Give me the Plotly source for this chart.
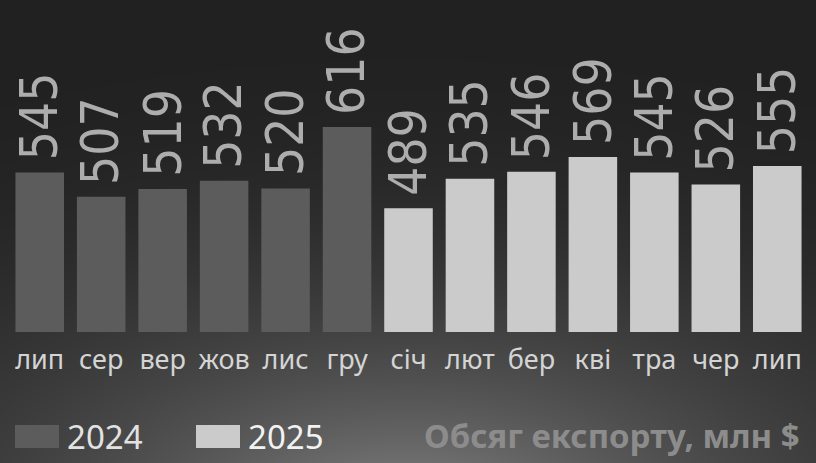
import base64
import struct
import zlib

import numpy as np
import plotly.graph_objects as go

# export volume, mln $ (Jul 2024 - Jul 2025)
months = ["лип", "сер", "вер", "жов", "лис", "гру",
          "січ", "лют", "бер", "кві", "тра", "чер", "лип"]
values_2024 = [545, 507, 519, 532, 520, 616]
values_2025 = [489, 535, 546, 569, 545, 526, 555]
years = ["2024", "2025"]

W, H = 816, 463
L, R, T, B = 9, 8, 0, 131
col_2024 = "#5c5c5c"
col_2025 = "#cbcbcb"


def background_png(w, h):
    """dark backdrop, lighter towards the bottom centre"""
    yy, xx = np.mgrid[0:h, 0:w].astype(float)
    d = np.sqrt(((xx - w / 2) / 2.0) ** 2 + (yy - 520) ** 2)
    f = np.clip(1 - d / 560, 0, 1) ** 2.7
    img = (33 + 104 * f).clip(0, 255).astype(np.uint8)
    raw = b"".join(b"\x00" + row.tobytes() for row in img)

    def chunk(tag, data):
        c = struct.pack(">I", len(data)) + tag + data
        return c + struct.pack(">I", zlib.crc32(tag + data) & 0xFFFFFFFF)

    png = b"\x89PNG\r\n\x1a\n"
    png += chunk(b"IHDR", struct.pack(">IIBBBBB", w, h, 8, 0, 0, 0, 0))
    png += chunk(b"IDAT", zlib.compress(raw, 9))
    png += chunk(b"IEND", b"")
    return "data:image/png;base64," + base64.b64encode(png).decode()


x_2024 = list(range(len(values_2024)))
x_2025 = list(range(len(values_2024), len(values_2024) + len(values_2025)))

fig = go.Figure()
fig.add_trace(go.Bar(x=x_2024, y=values_2024, name=years[0],
                     marker=dict(color=col_2024, line_width=0)))
fig.add_trace(go.Bar(x=x_2025, y=values_2025, name=years[1],
                     marker=dict(color=col_2025, line_width=0)))

# rotated value labels above the bars
for xs, vs in ((x_2024, values_2024), (x_2025, values_2025)):
    for xi, v in zip(xs, vs):
        fig.add_annotation(
            x=xi, y=v, text=str(v), textangle=-90, showarrow=False,
            xanchor="center", yanchor="bottom", yshift=10,
            font=dict(family="DejaVu Sans Condensed, DejaVu Sans", size=51,
                      color="#adadad"),
        )

pw = W - L - R
ph = H - T - B


def px_x(p):
    return (p - L) / pw


def px_y(p):
    return (H - B - p) / ph


# hand-made legend
for i, (label, col, x0) in enumerate(zip(years, [col_2024, col_2025], [15, 196])):
    fig.add_shape(type="rect", xref="paper", yref="paper",
                  x0=px_x(x0), x1=px_x(x0 + 44), y0=px_y(448), y1=px_y(425),
                  fillcolor=col, line_width=0)
    fig.add_annotation(xref="paper", yref="paper", x=px_x(x0 + 50), y=px_y(436.5),
                       text=label, showarrow=False, xanchor="left", yanchor="middle",
                       font=dict(family="Noto Sans", size=33,
                                 color="#e2e2e2" if i == 0 else "#f2f2f2"))

fig.add_annotation(xref="paper", yref="paper", x=px_x(802), y=px_y(436),
                   text="<b>Обсяг експорту, млн $</b>", showarrow=False,
                   xanchor="right", yanchor="middle",
                   font=dict(family="Noto Sans", size=33, color="#8c8c8c"))

fig.add_layout_image(
    source=background_png(W, H), xref="paper", yref="paper",
    x=px_x(0), y=px_y(0), sizex=W / pw, sizey=H / ph,
    xanchor="left", yanchor="top", sizing="stretch", layer="below",
)

fig.update_xaxes(
    tickmode="array", tickvals=list(range(len(months))), ticktext=months,
    range=[-0.5, len(months) - 0.5],
    showgrid=False, zeroline=False, showline=False, ticks="",
    ticklabelstandoff=9,
    tickfont=dict(family="Noto Sans", size=27, color="#d4d4d4"),
)
fig.update_yaxes(range=[296, 814], visible=False)
fig.update_layout(
    width=W, height=H,
    margin=dict(l=L, r=R, t=T, b=B),
    barmode="overlay", bargap=0.21, showlegend=False,
    paper_bgcolor="#222222", plot_bgcolor="rgba(0,0,0,0)",
)

fig.write_html("out.html", config={"displayModeBar": False},
               post_script="document.body.style.margin='0';")
